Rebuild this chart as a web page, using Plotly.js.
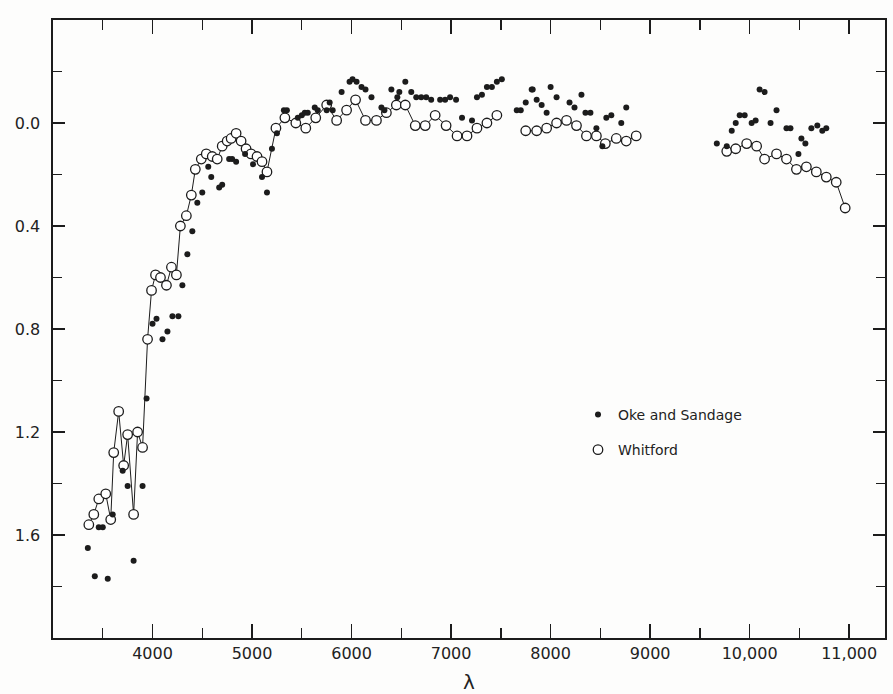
<!DOCTYPE html>
<html>
<head>
<meta charset="utf-8">
<script src="https://cdn.plot.ly/plotly-3.0.1.min.js"></script>
<style>
html,body{margin:0;padding:0;background:#fdfdfc;}
#chart{width:893px;height:694px;}
</style>
</head>
<body>
<div id="chart"></div>
<script>
// Oke and Sandage (filled dots)
const okeLambda = [3350,3420,3460,3500,3550,3600,3700,3750,3810,3900,
  3940,4000,4040,4100,4150,4200,4260,4300,4350,4400,
  4450,4500,4560,4590,4670,4700,4770,4800,4840,4930,
  5010,5100,5150,5200,5250,5320,5350,5460,5500,5530,
  5560,5630,5660,5750,5780,5810,5900,5980,6010,6050,
  6100,6140,6200,6300,6330,6400,6460,6480,6540,6600,
  6650,6700,6750,6800,6890,6940,6990,7050,7110,7210,
  7260,7310,7360,7410,7460,7510,7660,7700,7750,7810,
  7820,7860,7910,7960,8000,8060,8190,8240,8310,8350,
  8400,8460,8520,8560,8610,8710,8760,9670,9770,9820,
  9860,9900,9950,10020,10060,10100,10150,10210,10270,10370,
  10410,10490,10520,10560,10620,10680,10730,10770];
const okeMag = [1.65,1.76,1.57,1.57,1.77,1.52,1.35,1.41,1.70,1.41,
  1.07,0.78,0.76,0.84,0.81,0.75,0.75,0.63,0.51,0.42,
  0.31,0.27,0.17,0.21,0.25,0.24,0.14,0.14,0.15,0.12,
  0.16,0.21,0.27,0.10,0.04,-0.05,-0.05,-0.02,-0.03,-0.04,
  -0.04,-0.06,-0.05,-0.05,-0.08,-0.05,-0.12,-0.16,-0.17,-0.16,
  -0.14,-0.13,-0.10,-0.06,-0.05,-0.13,-0.10,-0.12,-0.16,-0.12,
  -0.10,-0.10,-0.10,-0.09,-0.09,-0.09,-0.10,-0.09,-0.02,-0.01,
  -0.10,-0.11,-0.14,-0.14,-0.16,-0.17,-0.05,-0.05,-0.08,-0.13,
  -0.13,-0.09,-0.07,-0.04,-0.14,-0.10,-0.08,-0.06,-0.11,-0.04,
  -0.04,0.02,0.09,-0.02,-0.03,0.00,-0.06,0.08,0.09,0.03,
  0.00,-0.03,-0.03,0.00,-0.01,-0.13,-0.12,0.00,-0.05,0.02,
  0.02,0.12,0.06,0.08,0.02,0.01,0.03,0.02];

// Whitford (open circles joined by a line; null = break)
const whitfordLambda = [3360,3410,3460,3530,3580,3610,3660,3710,3750,3810,
  3850,3900,3950,3990,4030,4080,4140,4190,4240,4280,
  4340,4390,4430,4490,4540,4600,4650,4700,4750,4790,
  4840,4890,4940,4990,5050,5100,5150,5240,5330,5440,
  5540,5640,5750,5850,5950,6040,6140,6250,6350,6450,
  6540,6640,6740,6840,6950,7060,7160,7260,7360,7460,
  null,
  7750,7860,7960,8060,8160,8260,8360,8460,8550,8660,8760,8860,
  null,
  9770,9860,9970,10070,10150,10270,10370,10470,10570,10670,10770,10870,10960];
const whitfordMag = [1.56,1.52,1.46,1.44,1.54,1.28,1.12,1.33,1.21,1.52,
  1.20,1.26,0.84,0.65,0.59,0.60,0.63,0.56,0.59,0.40,
  0.36,0.28,0.18,0.14,0.12,0.13,0.14,0.09,0.07,0.06,
  0.04,0.07,0.10,0.12,0.13,0.15,0.19,0.02,-0.02,0.00,
  0.02,-0.02,-0.07,-0.01,-0.05,-0.09,-0.01,-0.01,-0.04,-0.07,
  -0.07,0.01,0.01,-0.03,0.01,0.05,0.05,0.02,0.00,-0.03,
  null,
  0.03,0.03,0.02,0.00,-0.01,0.01,0.05,0.05,0.08,0.06,0.07,0.05,
  null,
  0.11,0.10,0.08,0.09,0.14,0.12,0.14,0.18,0.17,0.19,0.21,0.23,0.33];

const xTickVals = [4000,5000,6000,7000,8000,9000,10000,11000];
const xTickText = ['4000','5000','6000','7000','8000','9000','10,000','11,000'];
const yTickVals = [0.0,0.4,0.8,1.2,1.6];
const yTickText = ['0.0','0.4','0.8','1.2','1.6'];

const ink = '#1c1c1c';
const font = 'DejaVu Sans, sans-serif';

const traces = [
  {
    x: whitfordLambda, y: whitfordMag, type: 'scatter', mode: 'lines',
    line: {color: ink, width: 1}, connectgaps: false,
    showlegend: false, hoverinfo: 'skip'
  },
  {
    x: whitfordLambda, y: whitfordMag, type: 'scatter', mode: 'markers',
    name: 'Whitford', legendgroup: 'w', legendrank: 2,
    marker: {symbol: 'circle', size: 9.5, color: '#ffffff', line: {color: ink, width: 1.3}}
  },
  {
    x: okeLambda, y: okeMag, type: 'scatter', mode: 'markers',
    name: 'Oke and Sandage', legendgroup: 'o', legendrank: 1,
    marker: {symbol: 'circle', size: 6, color: ink}
  }
];

const axisCommon = {
  showline: true, linecolor: ink, linewidth: 1.6, mirror: 'ticks',
  ticks: 'inside', tickcolor: ink, tickwidth: 1.4,
  showgrid: false, zeroline: false,
  tickfont: {family: font, size: 16, color: '#222'}
};

const layout = {
  width: 893, height: 694,
  margin: {l: 53, r: 8, t: 20, b: 56},
  paper_bgcolor: '#fdfdfc', plot_bgcolor: '#fdfdfc',
  font: {family: font, color: '#222'},
  xaxis: Object.assign({}, axisCommon, {
    range: [3000, 11360],
    tickmode: 'array', tickvals: xTickVals, ticktext: xTickText,
    ticklen: 14,
    minor: {dtick: 500, tick0: 3500, ticks: 'inside', ticklen: 10, tickcolor: ink, tickwidth: 1.4},
    title: {text: 'λ', font: {family: font, size: 20, color: '#222'}, standoff: 14}
  }),
  yaxis: Object.assign({}, axisCommon, {
    range: [2.0, -0.4],
    tickmode: 'array', tickvals: yTickVals, ticktext: yTickText,
    ticklen: 12, ticklabelstandoff: 8,
    minor: {dtick: 0.2, tick0: 0, ticks: 'inside', ticklen: 9, tickcolor: ink, tickwidth: 1.4}
  }),
  showlegend: true,
  legend: {
    x: 0.631, y: 0.387, xanchor: 'left', yanchor: 'top',
    bgcolor: 'rgba(0,0,0,0)', borderwidth: 0,
    traceorder: 'grouped', tracegroupgap: 14,
    font: {family: font, size: 14, color: '#222'}
  }
};

Plotly.newPlot('chart', traces, layout, {displayModeBar: false, staticPlot: true});
</script>
</body>
</html>
